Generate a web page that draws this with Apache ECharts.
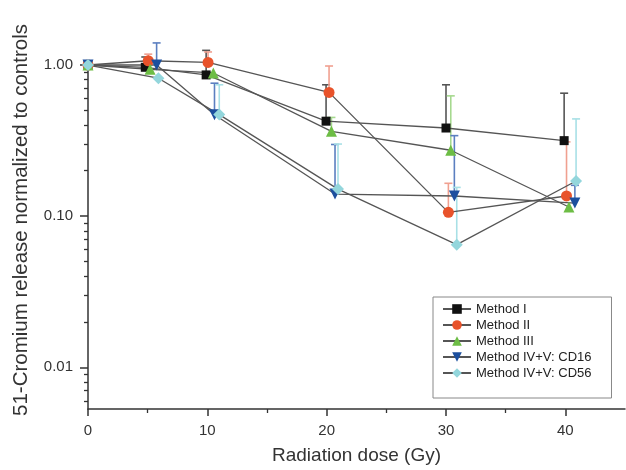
<!DOCTYPE html>
<html>
<head>
<meta charset="utf-8">
<script src="https://cdn.jsdelivr.net/npm/echarts@6/dist/echarts.min.js"></script>
<style>
html,body{margin:0;padding:0;background:#fff;}
#chart{width:626px;height:470px;}
</style>
</head>
<body>
<div id="chart"></div>
<script>
// ---------- data ----------
const seriesNames = ['Method I', 'Method II', 'Method III', 'Method IV+V: CD16', 'Method IV+V: CD56'];

// dose positions (Gy) as plotted (small horizontal offsets per method)
const xI   = [0, 4.8, 9.9, 19.95, 30.0, 39.9];
const xII  = [0, 5.05, 10.06, 20.2, 30.2, 40.1];
const xIII = [0, 5.2, 10.5, 20.4, 30.4, 40.3];
const xIV  = [0, 5.75, 10.6, 20.7, 30.7, 40.8];
const xV   = [0, 5.9, 11.0, 20.95, 30.9, 40.9];

// mean 51-Cr release normalized to controls
const yI   = [1.0, 0.966, 0.86, 0.425, 0.383, 0.316];
const yII  = [1.0, 1.067, 1.04, 0.659, 0.106, 0.136];
const yIII = [1.0, 0.937, 0.886, 0.364, 0.273, 0.115];
const yIV  = [1.0, 1.0, 0.469, 0.14, 0.136, 0.122];
const yV   = [1.0, 0.818, 0.47, 0.151, 0.0648, 0.171];

// upper end of error bars (null = none visible)
const eI   = [null, 1.13, 1.25, 0.74, 0.74, 0.651];
const eII  = [null, 1.18, 1.22, 0.985, 0.165, 0.31];
const eIII = [null, null, null, 0.45, 0.625, null];
const eIV  = [null, 1.40, 0.758, 0.298, 0.341, 0.16];
const eV   = [null, null, 0.74, 0.30, 0.155, 0.44];

// axis ticks
const xTickValues = [0, 10, 20, 30, 40];
const xMinorTicks = [5, 15, 25, 35];
const yTickValues = [0.01, 0.1, 1];
const yTickLabels = ['0.01', '0.10', '1.00'];
const yMinorTicks = [0.006, 0.007, 0.008, 0.009, 0.02, 0.03, 0.04, 0.05, 0.06, 0.07, 0.08, 0.09,
                     0.2, 0.3, 0.4, 0.5, 0.6, 0.7, 0.8, 0.9];
const yMin = 0.0053, yMax = 1.047;
const xMin = 0, xMax = 45;

// ---------- styles ----------
const markerColors = ['#111111', '#e8532b', '#6dbd45', '#1c4f9e', '#93d6dc'];
const errColors    = ['#555555', '#f0a090', '#a6d98f', '#5b7fc0', '#a8e0e6'];
const symbols      = ['rect', 'circle', 'triangle', 'triangle', 'diamond'];
const symbolRot    = [0, 0, 0, 180, 0];
const symbolSizes  = [9, 11, 11, 11, 12];

const L = v => Math.log10(v);
const xs = [xI, xII, xIII, xIV, xV];
const ys = [yI, yII, yIII, yIV, yV];
const es = [eI, eII, eIII, eIV, eV];

const font = "'Liberation Sans', Arial, sans-serif";
const axisColor = '#333';

const series = [];
// error bars first (drawn under the markers)
for (let s = 0; s < 5; s++) {
  const data = [];
  xs[s].forEach((x, i) => {
    if (es[s][i] != null) data.push([x, L(ys[s][i]), L(es[s][i])]);
  });
  series.push({
    type: 'custom',
    name: 'err' + s,
    z: 1,
    clip: false,
    xAxisIndex: 0, yAxisIndex: 0,
    data: data,
    renderItem: function (params, api) {
      const p0 = api.coord([api.value(0), api.value(1)]);
      const p1 = api.coord([api.value(0), api.value(2)]);
      const st = { stroke: errColors[s], lineWidth: 1.6 };
      return {
        type: 'group',
        children: [
          { type: 'line', shape: { x1: p0[0], y1: p0[1], x2: p1[0], y2: p1[1] }, style: st },
          { type: 'line', shape: { x1: p1[0] - 4, y1: p1[1], x2: p1[0] + 4, y2: p1[1] }, style: st }
        ]
      };
    }
  });
}
for (let s = 0; s < 5; s++) {
  series.push({
    type: 'line',
    name: seriesNames[s],
    z: 3,
    clip: false,
    xAxisIndex: 0, yAxisIndex: 0,
    data: xs[s].map((x, i) => [x, L(ys[s][i])]),
    symbol: symbols[s],
    symbolRotate: symbolRot[s],
    symbolSize: symbolSizes[s],
    showAllSymbol: true,
    itemStyle: { color: markerColors[s] },
    lineStyle: { color: '#555555', width: 1.3 },
    emphasis: { disabled: true },
    animation: false
  });
}

const chart = echarts.init(document.getElementById('chart'), null, { renderer: 'canvas' });
chart.setOption({
  animation: false,
  backgroundColor: '#ffffff',
  textStyle: { fontFamily: font },
  grid: { left: 88, right: 1, top: 62, bottom: 59, containLabel: false },
  xAxis: [
    {
      type: 'value', min: xMin, max: xMax, position: 'bottom',
      axisLine: { onZero: false, lineStyle: { color: axisColor, width: 1.5 } },
      axisTick: { customValues: xTickValues, length: 7, lineStyle: { color: axisColor, width: 1.5 } },
      axisLabel: { customValues: xTickValues, fontSize: 15, color: '#333', margin: 14, fontFamily: font },
      splitLine: { show: false },
      name: 'Radiation dose (Gy)', nameLocation: 'middle', nameGap: 37,
      nameTextStyle: { fontSize: 19, color: '#333', fontFamily: font }
    },
    {
      type: 'value', min: xMin, max: xMax, position: 'bottom',
      axisLine: { show: false, onZero: false },
      axisTick: { customValues: xMinorTicks, length: 4, lineStyle: { color: axisColor, width: 1.3 } },
      axisLabel: { show: false },
      splitLine: { show: false }
    }
  ],
  yAxis: [
    {
      type: 'value', min: L(yMin), max: L(yMax), position: 'left',
      axisLine: { onZero: false, lineStyle: { color: axisColor, width: 1.5 } },
      axisTick: { customValues: yTickValues.map(L), length: 8, lineStyle: { color: axisColor, width: 1.5 } },
      axisLabel: {
        customValues: yTickValues.map(L), fontSize: 15, color: '#333', margin: 15, fontFamily: font,
        formatter: function (v) {
          let best = 0;
          yTickValues.forEach((t, i) => { if (Math.abs(L(t) - v) < Math.abs(L(yTickValues[best]) - v)) best = i; });
          return yTickLabels[best];
        }
      },
      splitLine: { show: false }
    },
    {
      type: 'value', min: L(yMin), max: L(yMax), position: 'left',
      axisLine: { show: false, onZero: false },
      axisTick: { customValues: yMinorTicks.map(L), length: 4, lineStyle: { color: axisColor, width: 1.3 } },
      axisLabel: { show: false },
      splitLine: { show: false }
    }
  ],
  legend: {
    data: seriesNames,
    orient: 'vertical',
    left: 433, top: 297,
    padding: [5, 20, 18, 9],
    itemGap: 2,
    itemWidth: 28,
    itemHeight: 12,
    borderColor: '#888',
    borderWidth: 1,
    selectedMode: false,
    textStyle: { fontSize: 13, color: '#222', lineHeight: 14, fontFamily: font }
  },
  graphic: [
    {
      type: 'text',
      x: 21, y: 220,
      rotation: Math.PI / 2,
      style: {
        text: '51-Cromium release normalized to controls',
        font: "20.5px 'Liberation Sans', Arial, sans-serif",
        fill: '#333',
        textAlign: 'center',
        textVerticalAlign: 'middle'
      }
    }
  ],
  series: series
});
</script>
</body>
</html>
